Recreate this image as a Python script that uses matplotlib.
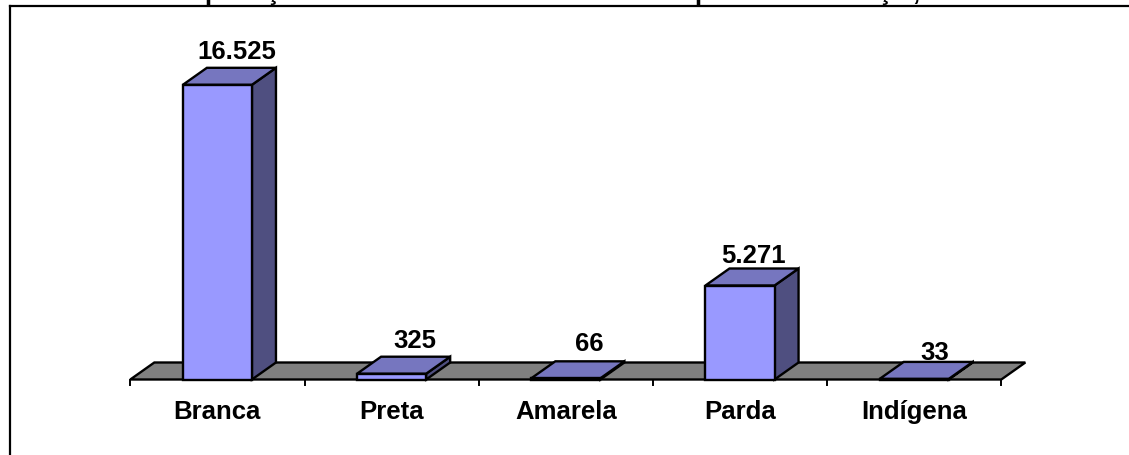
import matplotlib
matplotlib.use('Agg')
import matplotlib.pyplot as plt
from matplotlib.lines import Line2D
from matplotlib.patches import Polygon, Rectangle

categories = ['Branca', 'Preta', 'Amarela', 'Parda', 'Indígena']
values = [16525, 325, 66, 5271, 33]
value_labels = ['16.525', '325', '66', '5.271', '33']

# label nudges in pixels, the original places them by hand
label_dx = [19, 23, 23, 14, 21]
label_gap = [10, 10, 11, 7, 3]

W, H = 1129, 456
PT = 0.72  # points per pixel at dpi 100
plt.rcParams['font.family'] = ['Liberation Sans', 'DejaVu Sans']

fig = plt.figure(figsize=(W / 100, H / 100), dpi=100)

# plot area in pixels: x 130-1001, baseline at y=380.5
ax = fig.add_axes([130.3 / W, (H - 380.5) / H, 871 / W, 321 / H])
ax.set_xlim(0, 5)
ax.set_ylim(0, 18000)
ax.axis('off')

EDGE = dict(edgecolor='black', linewidth=1.7, joinstyle='miter', clip_on=False)
dx = 24 / 174  # depth in category units
dy = 17 * 18000 / 321  # depth in value units
bar_w = 69 / 174

# floor
ax.add_patch(Polygon([(0, 0), (dx, dy), (5 + dx, dy), (5, 0)], facecolor='#808080', **EDGE))

# ticks under the floor
for i in range(6):
    ax.plot([i, i], [0, -5 * 18000 / 321], color='black', lw=1.4, clip_on=False)

for i, (v, lab) in enumerate(zip(values, value_labels)):
    x0 = i + 0.5 - bar_w / 2
    x1 = x0 + bar_w
    ax.add_patch(Polygon([(x1, 0), (x1 + dx, dy), (x1 + dx, v + dy), (x1, v)],
                         facecolor='#4F4F80', **EDGE))
    ax.add_patch(Polygon([(x0, v), (x0 + dx, v + dy), (x1 + dx, v + dy), (x1, v)],
                         facecolor='#7676BF', **EDGE))
    ax.add_patch(Rectangle((x0, 0), bar_w, v, facecolor='#9999FF', **EDGE))
    ax.annotate(lab, xy=(i + 0.5, v + dy), xytext=(label_dx[i] * PT, label_gap[i] * PT),
                textcoords='offset points', ha='center', va='baseline',
                fontsize=18.5, fontweight='bold', annotation_clip=False)
    ax.annotate(categories[i], xy=(i + 0.5, 0), xytext=(0, -31.5 * PT), textcoords='offset points',
                ha='center', va='center', fontsize=18.5, fontweight='bold', annotation_clip=False)

# frame of the chart, only left and top lie inside the picture
fig.add_artist(Line2D([10 / W, 10 / W], [0, (H - 6.5) / H], color='black', lw=1.6,
                      solid_capstyle='projecting'))
fig.add_artist(Line2D([10 / W, 1], [(H - 6.5) / H, (H - 6.5) / H], color='black', lw=1.6))

# title is cut off by the top of the picture, only these descenders show
for px, s in [(212, 'p'), (273, 'ç'), (702, 'p'), (885, 'ç'), (916, ',')]:
    fig.text(px / W, 1, s, ha='center', va='baseline', fontsize=18.5, fontweight='bold')

fig.savefig('out.png', dpi=100)
